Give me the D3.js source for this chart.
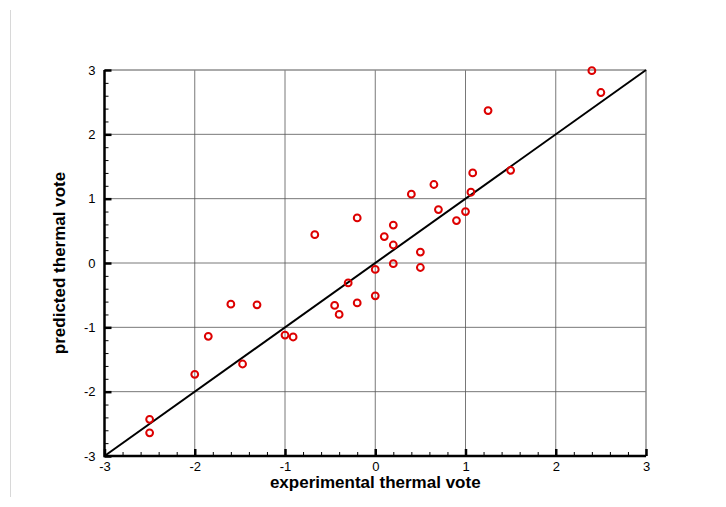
<!DOCTYPE html>
<html>
<head>
<meta charset="utf-8">
<script src="https://cdn.jsdelivr.net/npm/d3@7"></script>
<style>
  body { margin: 0; background: #fff; }
  svg text { font-family: "Liberation Sans", Arial, sans-serif; }
  .tick text { font-size: 13px; }
</style>
</head>
<body>
<div class="chart"></div>
<script>
// Chart size
var svgWidth = 726;
var svgHeight = 507;

// Plot area margins
var margin = { top: 70, right: 80, bottom: 51, left: 104.5 };
var width = 646 - margin.left;
var height = 456 - margin.top;

// Data
var experimental = [-0.67, -0.2, 0.4, 0.65, 1.08, 1.06, 0.7, 1.0, 0.9, 0.2, 0.1, 0.2,
    0.5, 0.2, 0.5, 0, -0.3, 0, -0.45, -0.2, -0.4, -1.0, -0.91, -1.6, -1.31, -1.85,
    -1.47, -2.0, -2.5, -2.5, 1.25, 2.4, 2.5, 1.5];
var predicted = [0.44, 0.70, 1.07, 1.22, 1.40, 1.10, 0.83, 0.80, 0.66, 0.59, 0.41, 0.28,
    0.17, -0.01, -0.07, -0.10, -0.31, -0.51, -0.66, -0.62, -0.80, -1.12, -1.15, -0.64, -0.65, -1.14,
    -1.57, -1.73, -2.43, -2.64, 2.37, 2.99, 2.65, 1.44];
var majorTicks = [-3, -2, -1, 0, 1, 2, 3];
var minorTicks = d3.range(-3, 3.001, 0.2);

var svg = d3.select(".chart")
    .append("svg")
    .attr("width", svgWidth)
    .attr("height", svgHeight);

// thin grey frame line on the far left
svg.append("line")
    .attr("x1", 10.5).attr("x2", 10.5)
    .attr("y1", 10).attr("y2", 497)
    .attr("stroke", "#d8d8d8");

var chartGroup = svg.append("g")
    .attr("transform", `translate(${margin.left}, ${margin.top})`);

var x = d3.scaleLinear().domain([-3, 3]).range([0, width]);
var y = d3.scaleLinear().domain([-3, 3]).range([height, 0]);

// grid lines
chartGroup.append("g")
    .selectAll("line")
    .data(majorTicks)
    .enter()
    .append("line")
    .attr("x1", d => x(d)).attr("x2", d => x(d))
    .attr("y1", 0).attr("y2", height)
    .attr("stroke", "#555").attr("stroke-width", 0.8);

chartGroup.append("g")
    .selectAll("line")
    .data(majorTicks)
    .enter()
    .append("line")
    .attr("x1", 0).attr("x2", width)
    .attr("y1", d => y(d)).attr("y2", d => y(d))
    .attr("stroke", "#555").attr("stroke-width", 0.8);

// frame top/right
chartGroup.append("rect")
    .attr("width", width).attr("height", height)
    .attr("fill", "none").attr("stroke", "#999").attr("stroke-width", 1);

// Axes: ticks pointing into the plot
var fmt = d => String(d);
var bottomMinor = d3.axisBottom(x).tickValues(minorTicks).tickSize(-4).tickFormat("");
var leftMinor = d3.axisLeft(y).tickValues(minorTicks).tickSize(-4).tickFormat("");
var bottomAxis = d3.axisBottom(x).tickValues(majorTicks).tickSize(-7).tickPadding(6)
    .tickFormat(fmt);
var leftAxis = d3.axisLeft(y).tickValues(majorTicks).tickSize(-7).tickPadding(9)
    .tickFormat(fmt);

function styleAxis(g, w) {
    g.attr("font-size", 13).attr("font-family", "Liberation Sans, Arial, sans-serif");
    g.select(".domain").remove();
    g.selectAll("line").attr("stroke", "#000").attr("stroke-width", w);
    g.selectAll("text").attr("fill", "#000");
}

chartGroup.append("g").attr("transform", `translate(0, ${height})`)
    .call(bottomMinor).call(g => styleAxis(g, 1));
chartGroup.append("g").call(leftMinor).call(g => styleAxis(g, 1));
chartGroup.append("g").attr("transform", `translate(0, ${height})`)
    .call(bottomAxis).call(g => styleAxis(g, 2.5));
chartGroup.append("g").call(leftAxis).call(g => styleAxis(g, 2.5));

// thick left and bottom axis lines
chartGroup.append("path")
    .attr("d", `M0,0V${height}H${width}`)
    .attr("fill", "none").attr("stroke", "#000").attr("stroke-width", 2.5);

// diagonal y = x
chartGroup.append("line")
    .attr("x1", x(-3)).attr("y1", y(-3))
    .attr("x2", x(3)).attr("y2", y(3))
    .attr("stroke", "#000").attr("stroke-width", 2);

// data points
chartGroup.selectAll("circle")
    .data(experimental)
    .enter()
    .append("circle")
    .attr("cx", (d, i) => x(d))
    .attr("cy", (d, i) => y(predicted[i]))
    .attr("r", 3.4)
    .attr("fill", "none")
    .attr("stroke", "#dd0000")
    .attr("stroke-width", 2);

// axis titles
chartGroup.append("text")
    .attr("x", x(0))
    .attr("y", 488 - margin.top)
    .attr("text-anchor", "middle")
    .style("font-size", "17px")
    .attr("font-weight", "bold")
    .text("experimental thermal vote");

chartGroup.append("text")
    .attr("transform", `translate(${65 - margin.left}, ${y(0)}) rotate(-90)`)
    .attr("text-anchor", "middle")
    .style("font-size", "17px")
    .attr("font-weight", "bold")
    .text("predicted thermal vote");
</script>
</body>
</html>
